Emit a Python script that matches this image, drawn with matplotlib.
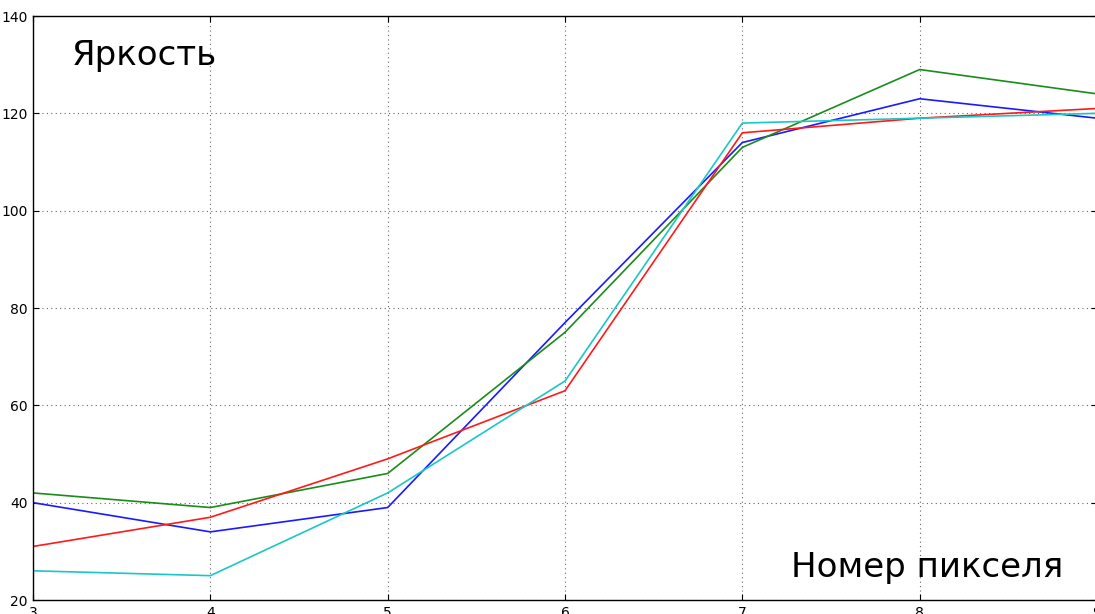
import matplotlib
matplotlib.use("Agg")
import matplotlib.pyplot as plt

x = [3, 4, 5, 6, 7, 8, 9]
blue = [40, 34, 39, 77, 114, 123, 119]
green = [42, 39, 46, 75, 113, 129, 124]
red = [31, 37, 49, 63, 116, 119, 121]
cyan = [26, 25, 42, 65, 118, 119, 120]
series = [(blue, 'b'), (green, 'g'), (red, 'r'), (cyan, 'c')]
colors = {'b': (0.1, 0.1, 1), 'g': (0.1, 0.55, 0.1), 'r': (1, 0.1, 0.1), 'c': (0.1, 0.78, 0.78)}

W, H = 1095, 614
fig = plt.figure(figsize=(W / 100, H / 100), dpi=100)
fig.patch.set_facecolor('white')
l, r, t, b = 33, 1097, 16, 600
ax = fig.add_axes([l / W, (H - b) / H, (r - l) / W, (b - t) / H])

for ys, c in series:
    ax.plot(x, ys, color=colors[c], lw=1.2)

ax.set_xlim(3, 9)
ax.set_ylim(20, 140)
ax.set_xticks(x)
ax.set_yticks([20, 40, 60, 80, 100, 120, 140])
ax.grid(True, color='0.4', linestyle=(0, (1, 3)), lw=0.8)
ax.tick_params(direction='in', top=True, right=True, length=4, labelsize=10, pad=4)
for s in ax.spines.values():
    s.set_linewidth(1.0)

fig.text(72 / W, 1 - 65 / H, 'Яркость', fontsize=24.5, va='baseline', ha='left')
fig.text(791 / W, 1 - 577 / H, 'Номер пикселя', fontsize=24.5, va='baseline', ha='left')

fig.savefig('out.png', dpi=100)
